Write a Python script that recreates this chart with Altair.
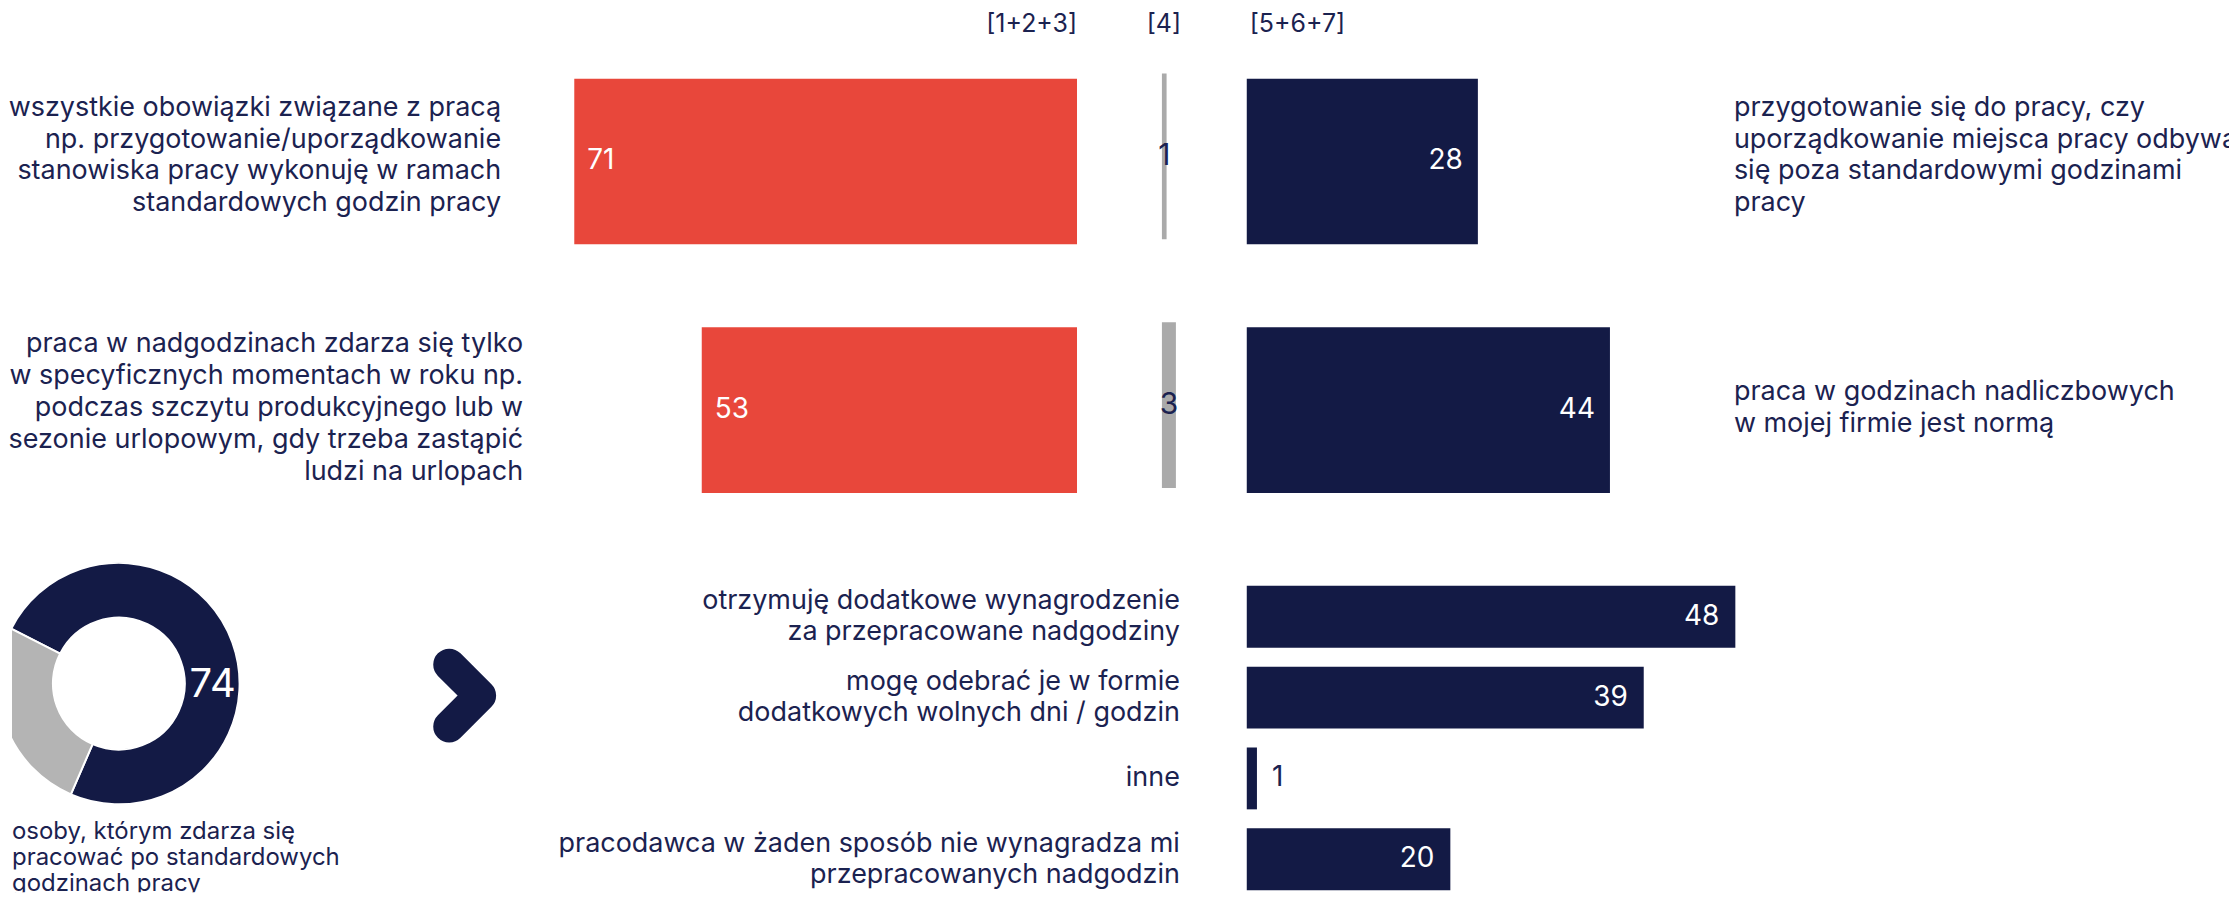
import math
import altair as alt
import pandas as pd

# ---------------- data ----------------
rows = ["r1", "r2"]
left_labels = [
    "wszystkie obowiązki związane z pracą\nnp. przygotowanie/uporządkowanie\nstanowiska pracy wykonuję w ramach\nstandardowych godzin pracy",
    "praca w nadgodzinach zdarza się tylko\nw specyficznych momentach w roku np.\npodczas szczytu produkcyjnego lub w\nsezonie urlopowym, gdy trzeba zastąpić\nludzi na urlopach",
]
right_labels = [
    "przygotowanie się do pracy, czy\nuporządkowanie miejsca pracy odbywa\nsię poza standardowymi godzinami\npracy",
    "praca w godzinach nadliczbowych\nw mojej firmie jest normą",
]
neg_values = [71, 53]      # [1+2+3]
neutral_values = [1, 3]    # [4]
pos_values = [28, 44]      # [5+6+7]
headers = ["[1+2+3]", "[4]", "[5+6+7]"]

comp_ids = ["c1", "c2", "c3", "c4"]
comp_labels = [
    "otrzymuję dodatkowe wynagrodzenie\nza przepracowane nadgodziny",
    "mogę odebrać je w formie\ndodatkowych wolnych dni / godzin",
    "inne",
    "pracodawca w żaden sposób nie wynagradza mi\nprzepracowanych nadgodzin",
]
comp_values = [48, 39, 1, 20]

donut_keys = ["tak", "nie"]
donut_values = [74, 26]
donut_caption = "osoby, którym zdarza się\npracować po standardowych\ngodzinach pracy"

# ---------------- style ----------------
NAVY = "#131A45"
RED = "#E8473B"
GREY = "#AAAAAA"
DONUT_GREY = "#B4B4B4"
TEXT = "#1B2250"
FONT = "Inter"
FS = 27
HFS = 25
VFS = 28

top_df = pd.DataFrame({
    "row": rows, "neg": neg_values, "neu": neutral_values, "pos": pos_values,
    "left": left_labels, "right": right_labels,
})
comp_df = pd.DataFrame({"id": comp_ids, "label": comp_labels, "value": comp_values})
donut_df = pd.DataFrame({"k": donut_keys, "v": donut_values, "o": [0, 1]})

TOP_H = 555
BOT_H = 330


def ytop(align=0.5):
    return alt.Y("row:N", axis=None, title=None,
                 scale=alt.Scale(domain=rows, paddingInner=1 / 3, paddingOuter=0.281, align=align))


def text_block(chart, key, val, field, text, lh, base_dy, x, y, align, dx=0, fs=FS, clip=False):
    """Multi-line text block vertically centred on its band."""
    n = text.count("\n") + 1
    return chart.transform_filter(alt.datum[key] == val).mark_text(
        align=align, baseline="middle", lineBreak="\n", lineHeight=lh, dx=dx,
        dy=base_dy - (n - 1) * lh / 2, fontSize=fs, font=FONT, color=TEXT, clip=clip
    ).encode(x=x, y=y, text=f"{field}:N")


base = alt.Chart(top_df)

# ---------- red panel ----------
RDOM = [0, 150.4]
xr = alt.X("neg:Q", axis=None, scale=alt.Scale(domain=RDOM, reverse=True, nice=False))
red_bars = base.mark_bar(color=RED).encode(x=xr, y=ytop())
red_vals = base.mark_text(align="left", baseline="middle", dx=13, color="white",
                          fontSize=VFS, font=FONT).encode(x=xr, y=ytop(), text="neg:Q")
left1 = text_block(base, "row", rows[0], "left", left_labels[0], 32, -6, alt.value(490), ytop(), "right")
left2 = text_block(base, "row", rows[1], "left", left_labels[1], 32, -2, alt.value(512), ytop(), "right")
h_red = alt.Chart(pd.DataFrame({"h": [headers[0]]})).mark_text(
    align="right", baseline="middle", fontSize=HFS, font=FONT, color=TEXT
).encode(x=alt.datum(0), y=alt.value(15), text="h:N")
red_panel = alt.layer(red_bars, red_vals, left1, left2, h_red).properties(width=1067, height=TOP_H)

# ---------- grey panel ----------
gdom = [-18.2, 18.2]
xg = alt.X("neu:Q", axis=None, scale=alt.Scale(domain=gdom, nice=False))
grey_bars = base.mark_bar(color=GREY).encode(x=xg, y=ytop(0.464))
grey_vals = base.transform_calculate(mid="datum.neu / 2").mark_text(
    align="center", baseline="middle", color=TEXT, fontSize=30, font=FONT
).encode(x=alt.X("mid:Q", axis=None, scale=alt.Scale(domain=gdom, nice=False)),
         y=ytop(0.464), text="neu:Q")
h_grey = alt.Chart(pd.DataFrame({"h": [headers[1]]})).mark_text(
    align="center", baseline="middle", fontSize=HFS, font=FONT, color=TEXT, dx=2
).encode(x=alt.datum(0), y=alt.value(15), text="h:N")
grey_panel = alt.layer(grey_bars, grey_vals, h_grey).properties(width=170, height=TOP_H)

# ---------- navy panel ----------
xn = alt.X("pos:Q", axis=None, scale=alt.Scale(domain=[0, 119], nice=False))
navy_bars = base.mark_bar(color=NAVY).encode(x=xn, y=ytop())
navy_vals = base.mark_text(align="right", baseline="middle", dx=-15, color="white",
                           fontSize=VFS, font=FONT).encode(x=xn, y=ytop(), text="pos:Q")
right1 = text_block(base, "row", rows[0], "right", right_labels[0], 32, -6, alt.value(488), ytop(), "left", clip=True)
right2 = text_block(base, "row", rows[1], "right", right_labels[1], 32, -2, alt.value(488), ytop(), "left", clip=True)
h_navy = alt.Chart(pd.DataFrame({"h": [headers[2]]})).mark_text(
    align="left", baseline="middle", fontSize=HFS, font=FONT, color=TEXT, dx=3
).encode(x=alt.datum(0), y=alt.value(15), text="h:N")
navy_panel = alt.layer(navy_bars, navy_vals, right1, right2, h_navy).properties(width=984, height=TOP_H)

top = alt.hconcat(red_panel, grey_panel, navy_panel, spacing=0, bounds="flush")

# ---------- donut panel ----------
start = math.radians(297)
dbase = alt.Chart(donut_df)
donut = dbase.mark_arc(radius=121, radius2=66, stroke="white", strokeWidth=2, clip=True).encode(
    theta=alt.Theta("v:Q", stack=True, scale=alt.Scale(range=[start, start + 2 * math.pi])),
    color=alt.Color("k:N", scale=alt.Scale(domain=donut_keys, range=[NAVY, DONUT_GREY]), legend=None),
    order=alt.Order("o:Q"),
    x=alt.value(107), y=alt.value(121),
)
donut_val = dbase.transform_filter("datum.o == 0").mark_text(
    align="center", baseline="middle", color="white", fontSize=40, font=FONT, dx=94
).encode(x=alt.value(107), y=alt.value(122), text="v:Q")
cap_n = donut_caption.count("\n") + 1
caption = alt.Chart(pd.DataFrame({"t": [donut_caption]})).mark_text(
    align="left", baseline="middle", lineBreak="\n", lineHeight=26, dy=-(cap_n - 1) * 26 / 2,
    fontSize=24, font=FONT, color=TEXT, clip=True
).encode(x=alt.value(0), y=alt.value(296), text="t:N")
chevron = alt.Chart(pd.DataFrame({"s": [1]})).mark_point(
    shape="M -0.5 -1 L 0.5 0 L -0.5 1", filled=False, stroke=NAVY, strokeWidth=32,
    strokeCap="round", strokeJoin="round", size=3844, opacity=1
).encode(x=alt.value(453.5), y=alt.value(133))
donut_panel = alt.layer(donut, donut_val, caption, chevron).properties(width=1237, height=BOT_H)

# ---------- bottom bars ----------
yb = alt.Y("id:N", axis=None, title=None,
           scale=alt.Scale(domain=comp_ids, paddingInner=0.235, paddingOuter=0.1545, align=0.92))
xb = alt.X("value:Q", axis=None, scale=alt.Scale(domain=[0, 96.5], nice=False))
cb = alt.Chart(comp_df)
comp_bars = cb.mark_bar(color=NAVY).encode(x=xb, y=yb)
comp_in = cb.transform_filter("datum.value >= 5").mark_text(
    align="right", baseline="middle", dx=-16, color="white", fontSize=VFS, font=FONT
).encode(x=xb, y=yb, text="value:Q")
comp_out = cb.transform_filter("datum.value < 5").mark_text(
    align="left", baseline="middle", dx=15, color=TEXT, fontSize=VFS, font=FONT
).encode(x=xb, y=yb, text="value:Q")
comp_labs = [
    text_block(cb, "id", i, "label", t, 31, 0, alt.datum(0), yb, "right", dx=-67)
    for i, t in zip(comp_ids, comp_labels)
]
bars_panel = alt.layer(comp_bars, comp_in, comp_out, *comp_labs).properties(width=984, height=BOT_H)

bottom = alt.hconcat(donut_panel, bars_panel, spacing=0, bounds="flush")

chart = alt.vconcat(top, bottom, spacing=0).properties(
    padding=0, background="white"
).configure_view(stroke=None, fill="white")

chart.save("out.html", embed_options={"renderer": "svg", "actions": False})
